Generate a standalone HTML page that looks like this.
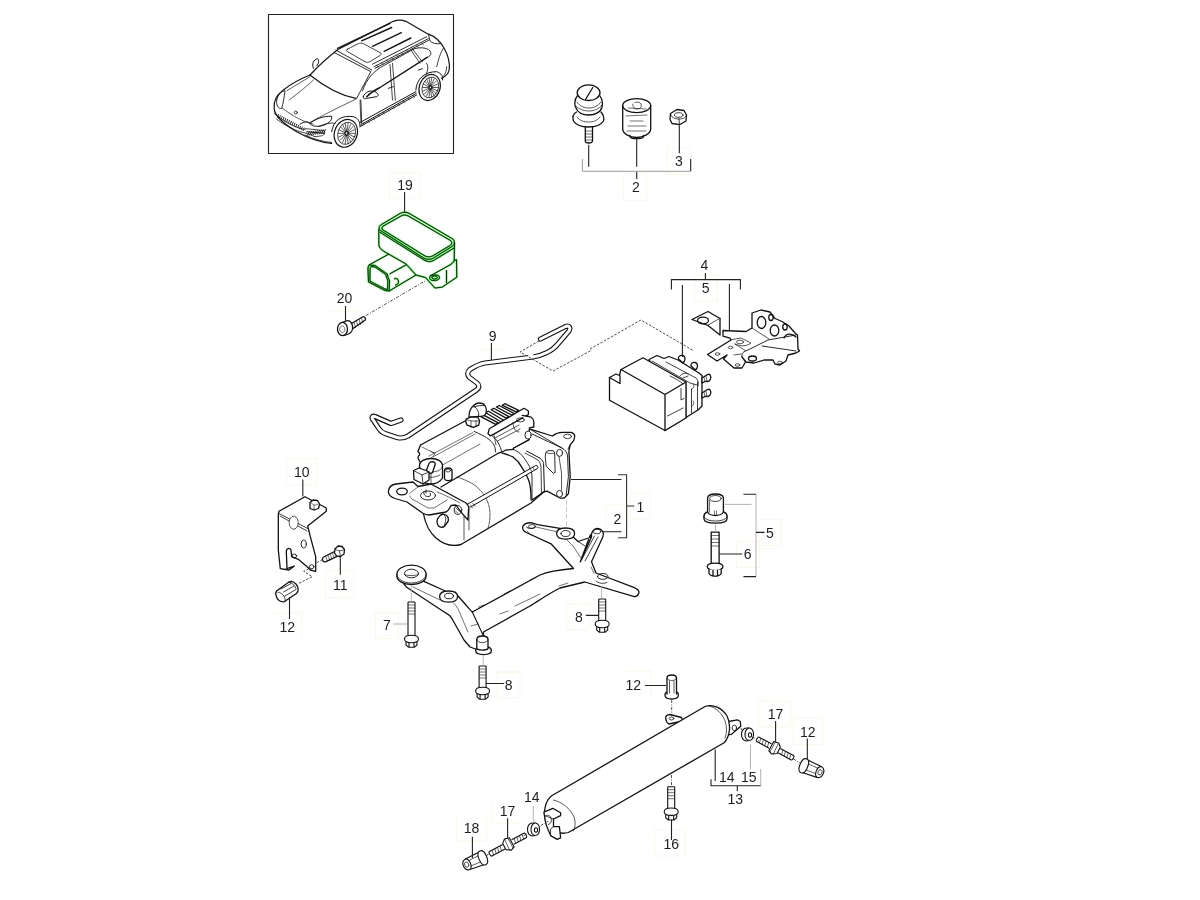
<!DOCTYPE html>
<html><head><meta charset="utf-8"><style>
html,body{margin:0;padding:0;background:#fff;width:1200px;height:900px;overflow:hidden}
svg{display:block}
text{font-family:"Liberation Sans",sans-serif;font-size:14px;fill:#1e1e1e;text-anchor:middle}
.p{fill:none;stroke:#111;stroke-width:1.3;stroke-linejoin:round;stroke-linecap:round}
.pf{fill:#fff;stroke:#111;stroke-width:1.3;stroke-linejoin:round;stroke-linecap:round}
.t{fill:none;stroke:#111;stroke-width:0.8}
.ld{fill:none;stroke:#222;stroke-width:1.1}
.g{fill:none;stroke:#9a9a9a;stroke-width:1}
.bx{fill:none;stroke:#fdf7ea;stroke-width:1;mix-blend-mode:multiply}
.d{fill:none;stroke:#222;stroke-width:0.9;stroke-dasharray:4 2}
</style></head><body>
<svg width="1200" height="900" viewBox="0 0 1200 900">
<!--BEGIN car--><g id="car" transform="translate(260,0) scale(0.1666667)">
<rect x="51" y="87" width="1110" height="834" fill="none" stroke="#222" stroke-width="1.1" vector-effect="non-scaling-stroke"/>
<g fill="none" stroke="#151515" stroke-linejoin="round" stroke-linecap="round">
<!-- silhouette thick -->
<path vector-effect="non-scaling-stroke" stroke-width="1.2" d="M300,450 C360,385 410,340 470,295 L800,128 C825,118 850,118 875,128 L1010,205 C1040,215 1080,245 1105,290 C1130,335 1140,380 1135,420 C1130,445 1110,460 1090,470"/>
<path vector-effect="non-scaling-stroke" stroke-width="1.2" d="M300,450 C250,470 190,500 140,540 C100,570 80,610 85,650 C90,700 140,740 220,790 C300,835 370,855 430,860"/>
<!-- windshield -->
<path vector-effect="non-scaling-stroke" stroke-width="1.2" d="M300,450 C380,515 470,570 575,590"/>
<path vector-effect="non-scaling-stroke" stroke-width="0.9" d="M445,315 L665,430 L580,590"/>
<path vector-effect="non-scaling-stroke" stroke-width="0.9" d="M455,300 L670,420"/>
<!-- mirror left -->
<path vector-effect="non-scaling-stroke" stroke-width="1" d="M320,410 C310,380 320,360 345,352 C355,360 355,380 340,395"/>
<!-- sunroof -->
<path vector-effect="non-scaling-stroke" stroke-width="0.8" d="M525,295 L590,262 C600,258 610,258 620,262 L725,318 C730,325 725,332 715,336 L660,370 C650,375 640,375 630,370 L525,310 C515,305 515,300 525,295Z"/>
<!-- roof lines -->
<path vector-effect="non-scaling-stroke" stroke-width="1.4" d="M610,245 L790,165 M675,278 L848,196 M745,308 L905,228"/>
<path vector-effect="non-scaling-stroke" stroke-width="1.2" d="M465,290 L780,140"/>
<!-- roof rail -->
<path vector-effect="non-scaling-stroke" stroke-width="0.9" d="M675,385 L1000,220 M685,400 L1010,232 M690,410 L1015,240"/>
<path vector-effect="non-scaling-stroke" stroke-width="0.6" d="M700,390 l10,15 M730,375 l10,15 M760,360 l10,15 M790,345 l10,15 M820,330 l10,15 M850,315 l10,15 M880,300 l10,15 M910,285 l10,15 M940,270 l10,15 M970,255 l10,15"/>
<path vector-effect="non-scaling-stroke" stroke-width="0.9" d="M1010,205 L1020,245 C1030,260 1060,265 1080,262"/>
<!-- side glass -->
<path vector-effect="non-scaling-stroke" stroke-width="0.9" d="M615,545 C640,470 690,420 740,395 L920,295 C960,280 1015,285 1025,315 C1028,330 1015,340 1005,345"/><path vector-effect="non-scaling-stroke" stroke-width="1.4" d="M1005,343 L720,525 C690,540 660,560 640,580"/>
<path vector-effect="non-scaling-stroke" stroke-width="0.8" d="M780,388 L795,600 M795,380 L812,602 M905,300 L960,380 M915,295 L975,372"/>
<!-- front door mirror -->
<path vector-effect="non-scaling-stroke" stroke-width="1" d="M620,580 C630,550 660,540 690,550 C710,560 715,575 700,580 L640,590 C625,595 615,590 620,580Z"/>
<!-- doors / handles -->
<path vector-effect="non-scaling-stroke" stroke-width="0.9" d="M770,530 L800,520 M950,420 L975,412 M605,600 L610,740 M1000,380 C1010,395 1010,420 995,450"/>
<!-- hood -->
<path vector-effect="non-scaling-stroke" stroke-width="0.7" d="M160,545 C200,520 260,485 300,460 M175,600 C240,550 290,510 320,480 M300,735 C360,700 480,640 575,595 M135,650 C200,700 260,730 320,745 M600,600 L605,735"/>
<circle vector-effect="non-scaling-stroke" stroke-width="0.8" cx="215" cy="675" r="9"/>
<!-- headlight left -->
<path vector-effect="non-scaling-stroke" stroke-width="0.9" d="M100,600 C110,560 130,545 150,545 C145,580 140,620 130,650 C110,655 95,630 100,600Z"/>
<!-- headlight front -->
<path vector-effect="non-scaling-stroke" stroke-width="1" d="M300,740 C330,715 380,695 430,698 C435,720 410,745 370,755 C330,762 305,755 300,740Z M240,745 C260,730 290,725 300,740"/>
<!-- grille / bumper -->
<path vector-effect="non-scaling-stroke" stroke-width="0.8" d="M85,680 C150,735 210,765 270,778 M100,715 C160,760 220,790 280,800 M272,772 L385,783 C392,795 388,812 370,815 L330,820 L280,800 M270,810 C320,835 380,850 430,855 M350,760 C380,745 420,735 450,740"/><path vector-effect="non-scaling-stroke" stroke-width="0.9" d="M105,703 l6,-16 M116,709 l6,-16 M127,715 l6,-16 M138,720 l6,-16 M149,726 l6,-16 M160,732 l6,-16 M171,738 l6,-16 M182,744 l6,-16 M193,749 l6,-16 M204,755 l6,-16 M215,761 l6,-16 M226,767 l6,-16 M237,773 l6,-16 M248,778 l6,-16 M259,784 l6,-16"/><path vector-effect="non-scaling-stroke" stroke-width="1" d="M285,812 l12,-22 M297,810 l12,-22 M309,809 l12,-22 M321,808 l12,-22 M333,806 l12,-22 M345,804 l12,-22 M357,803 l12,-22 M369,802 l12,-22 M381,800 l12,-22 M280,790 L385,800"/>
<!-- front wheel -->
<ellipse vector-effect="non-scaling-stroke" stroke-width="1.2" cx="515" cy="800" rx="68" ry="85" transform="rotate(20 515 800)"/>
<ellipse vector-effect="non-scaling-stroke" stroke-width="0.8" cx="520" cy="800" rx="52" ry="68" transform="rotate(20 520 800)"/>
<path vector-effect="non-scaling-stroke" stroke-width="0.7" d="M528,800 L570,800 M528,803 L567,822 M526,806 L558,841 M524,809 L545,855 M521,810 L529,863 M519,810 L511,863 M516,809 L495,855 M514,806 L482,841 M512,803 L473,822 M512,800 L470,800 M512,797 L473,778 M514,794 L482,759 M516,791 L495,745 M519,790 L511,737 M521,790 L529,737 M524,791 L545,745 M526,794 L558,759 M528,797 L567,778"/><ellipse vector-effect="non-scaling-stroke" stroke-width="1" cx="520" cy="800" rx="10" ry="13"/>
<path vector-effect="non-scaling-stroke" stroke-width="1" d="M430,790 C440,720 490,690 560,700 C590,710 600,730 600,760"/>
<!-- rear wheel -->
<ellipse vector-effect="non-scaling-stroke" stroke-width="1.2" cx="1018" cy="525" rx="62" ry="80" transform="rotate(20 1018 525)"/>
<ellipse vector-effect="non-scaling-stroke" stroke-width="0.8" cx="1022" cy="525" rx="48" ry="64" transform="rotate(20 1022 525)"/>
<path vector-effect="non-scaling-stroke" stroke-width="0.7" d="M1029,525 L1068,525 M1029,528 L1065,546 M1027,531 L1057,564 M1026,533 L1045,577 M1023,534 L1030,584 M1021,534 L1014,584 M1019,533 L999,577 M1017,531 L987,564 M1015,528 L979,546 M1015,525 L976,525 M1015,522 L979,504 M1017,519 L987,486 M1018,517 L999,473 M1021,516 L1014,466 M1023,516 L1030,466 M1025,517 L1045,473 M1027,519 L1057,486 M1029,522 L1065,504"/><ellipse vector-effect="non-scaling-stroke" stroke-width="1" cx="1022" cy="525" rx="9" ry="12"/>
<path vector-effect="non-scaling-stroke" stroke-width="1" d="M935,540 C940,470 990,430 1060,430 C1090,440 1100,460 1095,480"/>
<!-- sill -->
<path vector-effect="non-scaling-stroke" stroke-width="1" d="M600,760 L940,570 M600,735 L935,550 M605,748 L938,560"/>
<path vector-effect="non-scaling-stroke" stroke-width="0.5" d="M620,738 l5,12 M650,722 l5,12 M680,705 l5,12 M710,688 l5,12 M740,672 l5,12 M770,655 l5,12 M800,638 l5,12 M830,622 l5,12 M860,605 l5,12 M890,588 l5,12 M920,572 l5,12"/>
<!-- rear -->
<path vector-effect="non-scaling-stroke" stroke-width="0.8" d="M1100,290 C1080,320 1070,360 1060,400 M1090,470 C1110,450 1120,430 1120,400"/>
</g>
</g>
<!--END car-->
<!--BEGIN top-->
<g id="top">
<g class="p">
<ellipse cx="588.6" cy="92.7" rx="11.4" ry="7.8"/>
<path d="M585.5,99.5 L592.8,87.5"/>
<path d="M577.2,96 C574,100 574.5,106 576,108 C578,113 584,115 589,115 C595,115 601,112 602,107 C603,103 602,99 600,96"/>
<path stroke-width="0.7" d="M577,102 C580,107 585,108 589,108 C594,108 598,106 601,102 M576,106 C580,110 585,111 589,111 C594,111 599,109 602,105"/>
<path d="M576.5,112 C573,114 572.5,118 573.5,121 C576,125 582,127 588.5,127 C595,127 601,125 603.5,121 C604.5,118 603.5,115 601,112"/>
<path stroke-width="0.7" d="M577,117 C580,121 584,122 588.5,122 C593,122 597,121 600,117"/>
<path d="M585.3,127 L585.3,141.5 C586,143.5 591.5,143.5 592.5,141.5 L592.5,127"/>
<path stroke-width="0.6" d="M585.5,131 L592.5,131 M585.5,134 L592.5,134 M585.5,137 L592.5,137 M585.5,140 L592.5,140"/>
<!-- buffer -->
<ellipse cx="636.7" cy="105.6" rx="14" ry="7"/>
<path d="M622.7,105.6 L622.7,129 C623,134 630,137.5 636.7,137.5 C643,137.5 650.5,134 650.7,129 L650.7,105.6"/>
<path stroke-width="0.7" d="M633,104 C632,106 634,109 637,109 C640,109 642,107 641,104 C640,102 637,101.5 635,102.5"/>
<path stroke-width="0.6" d="M628,108 L646,109 M626,116 L647,115 M630,121 L643,121 M628,126 L646,126 M627,131 L646,131"/>
<path d="M630,135.5 L630.5,137.5 C632,139 641,139 643,137.5 L643.5,135.5"/>
<!-- nut -->
<path d="M670.5,113.5 L677,109.5 L684,110.5 L686.5,115 L686,121 L679.5,124.7 L672,123.5 L670,119.5 Z"/>
<path stroke-width="0.8" d="M670.5,113.5 C671,117 674,119 679,119 C684,119 686,117 686.5,115 M679,119 L679.5,124.7"/>
<ellipse stroke-width="0.8" cx="678.7" cy="115" rx="4.2" ry="2.3"/>
</g>
<path class="ld" d="M588.7,144.7 V166.7 M636.7,138 V166.7 M636.7,171.5 V179 M679.3,125.3 V153.3 M690.7,159 V171.3"/>
<path class="g" d="M582.4,159 V171.3 H690.7"/>
<path class="bx" d="M667.3,148 H690.7 V174.7 H667.3Z M623.3,174 H646.7 V200.4 H623.3Z"/>
</g>
<!--END top-->
<!--BEGIN p19-->
<g id="p19">
<defs>
<g id="s19" transform="translate(360,200) scale(0.1)">
<path d="M400,135 L215,245 C185,265 185,290 205,305 L640,582 C670,598 705,598 735,580 L925,462 C952,442 950,400 920,385 L490,133 C465,120 430,120 400,135Z"/>
<path d="M410,160 L230,262 C215,275 215,290 228,298 L650,560 C675,572 700,572 725,560 L905,452 C922,440 922,415 905,405 L480,158 C460,148 430,148 410,160Z"/>
<path d="M195,320 L650,605 C680,620 710,620 740,602 L940,480"/>
<path d="M188,290 L188,445 C190,480 215,500 250,520 L460,640 L492,675 L560,750"/>
<path d="M945,425 L942,605 L965,598 L968,772 L820,872 L750,880 L655,775 L560,750"/>
<path d="M942,605 C930,630 910,645 880,660 L700,760"/>
<path d="M865,700 L865,830"/>
<path d="M700,765 C690,785 700,800 730,805 C770,810 800,790 795,770 C790,752 760,745 730,752 C710,757 700,765 700,765Z"/>
<path d="M720,775 C720,790 745,795 765,785 C780,776 770,760 750,760 C730,760 720,768 720,775Z"/>
<path d="M90,650 L290,540"/>
<path d="M80,700 C78,680 82,660 92,650 L150,655 L270,738 L295,810 L292,910 L250,905 L85,820 Z"/>
<path d="M100,700 C100,680 105,668 112,665 L150,670 L258,745 L278,810 L276,895 L250,890 L100,812 Z"/>
<path d="M292,910 L560,750 M295,740 L462,648"/>
<path d="M340,790 C355,780 380,785 385,810 C388,835 370,850 350,850"/>
</g>
</defs>
<use href="#s19" fill="none" stroke="#3de23d" stroke-width="19"/>
<use href="#s19" fill="none" stroke="#0a0a0a" stroke-width="8.5" stroke-linejoin="round"/>
</g>
<!--END p19-->
<!--BEGIN p20-->
<g id="p20">
<g class="p" stroke-width="1.2">
<path fill="#fff" d="M342,322.5 L346.5,320.8 C349.5,320 352,322.5 352.5,326 C353,329.5 351.5,333 348.5,334 L344,335.5 Z"/>
<ellipse cx="342.5" cy="329" rx="5" ry="6.6" fill="#fff"/>
<ellipse cx="342.3" cy="329.3" rx="2.6" ry="3.4" stroke-width="0.6" stroke-dasharray="1.5 1"/>
<path d="M351.5,323.5 L362.5,317 C364.5,316 366,318 365.3,320 L353,328.5"/>
<path stroke-width="0.6" d="M354,322.5 L355.5,327.5 M356.5,321 L358,326 M359,319.5 L360.5,324.5 M361.5,318 L363,323"/>
</g>
<path class="ld" d="M345.5,306 V320.7 M404.6,192 V212"/>
<path fill="none" stroke="#222" stroke-width="0.8" stroke-dasharray="3 1.5 1 1.5" d="M366,315.5 L425,281"/>
<path class="bx" d="M389.6,172.5 H420 V198.3 H389.6Z M329,311 H360"/>
</g>
<!--END p20-->
<!--BEGIN p9-->
<g id="p9">
<path fill="none" stroke="#111" stroke-width="5.2" stroke-linejoin="round" stroke-linecap="round" d="M540.5,339 L565.5,326.5 C569,325 571,327.5 569,331 L557,345 C552,351 542,355.5 533,357 L485,363 C481,363.5 477,365 470,369.5 C467,372 467,375 469.5,377.5 L477,383 C479.5,385 479.5,388 476.5,390 L408,436 C404.5,438 401,438.5 397,437.5 L385,433.5 C382,432.5 380,430.5 378.5,428 L372.5,419 C371.5,417 372.5,415.5 375,416.5 L391,423.5 L401,420"/>
<path fill="none" stroke="#fff" stroke-width="3" stroke-linejoin="round" stroke-linecap="round" d="M540.5,339 L565.5,326.5 C569,325 571,327.5 569,331 L557,345 C552,351 542,355.5 533,357 L485,363 C481,363.5 477,365 470,369.5 C467,372 467,375 469.5,377.5 L477,383 C479.5,385 479.5,388 476.5,390 L408,436 C404.5,438 401,438.5 397,437.5 L385,433.5 C382,432.5 380,430.5 378.5,428 L372.5,419 C371.5,417 372.5,415.5 375,416.5 L391,423.5 L401,420"/>
<path fill="none" stroke="#fff" stroke-width="3" d="M527,358 L533,354"/>
<path class="ld" stroke="#777" d="M491.4,343 V360"/>
<path class="bx" d="M481,349.5 H504"/>
<path fill="none" stroke="#222" stroke-width="0.8" stroke-dasharray="2.5 1.5" d="M539,341 L520,352 L553,371 L592,350 M590,349 L641,320 L694,351"/>
</g>
<!--END p9-->
<!--BEGIN p1-->
<g id="p1">
<g class="pf" stroke-width="1.2">
<!-- upper compressor cylinder (behind) -->
<path d="M420.5,445 L466,420 L480,417 L529.3,440.3 L545,492 L461,544.5 L420,470 Z" stroke="none"/>
<path fill="none" d="M420.5,445 L466,420.5"/>
<path fill="none" d="M420.5,445 L418.5,450 C417.5,451 418,452 419.5,453 L419.5,455 C418,456 417.5,458 419,460 L420.5,463 L420.5,468"/>
<path fill="none" stroke-width="0.6" d="M422,447 L435,453.5 L433,456.5 M431,451.5 L434.5,453 M429,456 L473,432.5 M431,458 L475,434 M439,467 L480,444"/>
<path fill="none" stroke-width="0.9" d="M474.2,431.4 C480,434 484,436 486.7,437.7 C490,440 493,443 493.8,444.8 C495,447 495.5,449 495.6,451.9"/>
<path fill="none" stroke-width="0.9" d="M491.1,435 C494,437.5 497,440 498.2,443 C500,446 501,449 501.8,451.9"/>
<!-- fins -->
<path d="M480.4,416.3 L495.6,424.3 L498.3,422.8 L483.1,414.8 Z M485.8,412.8 L500.9,421.7 L503.6,420.2 L488.5,411.3 Z M491.1,409.7 L506.2,418.1 L508.9,416.6 L493.8,408.2 Z M496.4,407 L511.6,415 L514.3,413.5 L499.1,405.5 Z M502.2,405.2 L516,411.9 L518.7,410.4 L504.9,403.7 Z"/>
<!-- elbow fitting -->
<path d="M468.9,417.2 C469,413 470.5,408 473.3,405.7 C475,404 477,403 478.7,403 C481.5,403 484,404 484.8,405.5 C486.5,408 486.7,411 485.8,413.7 C485,415.5 482,416.5 479.6,416.3 Z"/>
<path fill="none" stroke-width="0.9" d="M473.3,405.7 C475.5,407 478,410 478.5,412.5 C479,414.5 478.5,416 477.8,417.2 M474,407 C476.5,405.5 482,405.5 484.8,405.5"/>
<path d="M466.2,419 L470.7,417.2 L477.8,417.2 L479.6,420.8 L478.7,425.2 L473.3,427.4 L467.1,425.2 L465.8,421.7 Z"/>
<path fill="none" stroke-width="0.7" d="M466.2,419 C468,421 473,421.5 479.6,420.8 M471,421.3 L471,427 M476,421 L476,426"/>
<!-- top rail / head block -->
<path d="M489.3,428.8 L524,408.3 L528.4,411 L528.4,414.6 L493.8,434.1 L490.2,435.9 L488,433.5 Z"/>
<path d="M522.2,415.4 L531.1,417.2 C533,418.5 533.8,420 533.8,421.7 L533.8,427 L529.3,427.9"/>
<ellipse cx="520.4" cy="419.9" rx="4" ry="2" fill="none" stroke-width="0.8"/>
<path fill="none" stroke-width="0.7" d="M493.8,434.1 L496,445 M513,423 C513,427 515,432 519,432 M495,438 L519,425 M497.5,441 L520,429"/>
<!-- pump head flange -->
<path d="M513.3,448.3 L529.3,439.6 L529.3,428.9 L552.4,436 C555,434 558,432.4 562.2,432.4 L571.1,432.4 C573,433 574.7,434.5 574.7,436 C574.5,438 573.8,440.4 573.8,440.4 L570.2,444.9 L568.9,451.1 L570.2,476.9 L568.4,493.8 L564,498.2 L560.4,498.2 L547.1,491.1 L543.6,492 L532,500 L513,457 Z"/>
<path fill="none" stroke-width="0.9" d="M531.1,429.8 L564,449.3 C566.5,451.5 567.6,454 567.6,457.3 L568.4,476.9 L566.2,494.7 M532,434 L562,448 M570.2,444.9 L568,449"/>
<ellipse cx="567.6" cy="436.4" rx="4" ry="2.2" fill="none" stroke-width="0.8"/>
<ellipse cx="528" cy="435.1" rx="3.1" ry="4" stroke-width="0.9"/>
<path fill="none" stroke-width="1" d="M513.3,448.3 L529.3,439.6 M526.7,451.1 L540,458.2 C542,460 543.6,462 543.6,463.6 L544.4,491.1"/>
<path fill="none" stroke-width="0.8" d="M525,453 L538,460 C540,462 541,465 541,468 L541.5,493"/>
<!-- pins -->
<path stroke-width="0.9" d="M546.2,452 L548,450.7 L553.3,450.7 L554.7,452.9 L555.1,472.4 L553.3,473.3 L546.2,466.2 L545.3,457.3 Z"/>
<path fill="none" stroke-width="0.7" d="M546.5,452.5 C548,454 552,454 554.5,453"/>
<ellipse cx="559.6" cy="452.9" rx="3" ry="3.5" stroke-width="0.9"/>
<path fill="none" stroke-width="0.7" d="M559,456.5 L561.5,473 L561.5,490"/>
<ellipse cx="559.6" cy="493.8" rx="3" ry="3.4" stroke-width="0.9"/>
<!-- motor cylinder -->
<path d="M460,472.3 L497.3,453.7 L505.3,450.2 L513.3,449.3 C517,451 520,453 522.2,455.6 C525,459 527.5,463 529.3,466.2 C531,470 532,473 532,476.9 L532,500 L461,544.5 C452,547 443,544 436,538 C428,531 425,522 423.5,514 L454,504.5 Z" stroke="none"/>
<path fill="none" d="M441,487 L497.3,453.7 C500,452.5 502.5,452 505.3,450.2 L513.3,449.3 M461,544.5 L531,503 L543.6,492"/>
<path fill="none" d="M501.8,452.8 C506,454 510,455.5 513.3,457.2 C517,460 520,463.5 522.2,467.9 C525.5,473 528,478 529.3,482.2 C530.5,487 531,492 531.1,500"/>
<path fill="none" stroke-width="0.9" d="M513.3,449.3 C517,451 520,453 522.2,455.6 C525,459 527.5,463 529.3,466.2 C531,470 532,473 532,476.9 L532,500"/>
<path fill="none" stroke-width="0.7" stroke-dasharray="3 1" d="M457,477 C466,480 475,484 480,490 C487,497 490,506 490,515 C490,520 489,525 488,528"/>
<!-- tie rod -->
<path d="M467,504.5 L535.8,465.5 C537.5,465 538.5,467 537.5,468.5 L470.5,507 C469,507.5 467.5,506.5 467,504.5 Z" stroke-width="1"/>
<path fill="none" stroke-width="0.6" d="M530,468.5 L532,471.5 M532.5,467 L534.5,470 M470.5,505 L472.5,508 M473,503.5 L475,506.5"/>
<!-- end cap -->
<path fill="none" d="M423.5,514 C425,522 428,531 436,538 C443,544 452,547 461,544.5"/>
<path fill="none" stroke-width="0.7" d="M464,512 L464,540 M469,509 L469,530"/>
<!-- plug -->
<path d="M438.5,517.5 C436.5,519.5 436.5,524 438.5,526 C440.5,528 443.5,527.5 445,525.5 L448,521.5 C449,519 448,516 446,515 L443,514 C441,514.5 439.5,516 438.5,517.5Z"/>
<path fill="none" stroke-width="0.8" d="M443,514 C445,515 446.5,518 445.5,521.5 C445,523.5 444,525.5 445,525.5"/>
<!-- mounting plate -->
<path d="M388.5,491 C389,487 392,484.5 396,484 L413,482 L418,486.5 L431,484 L466,503 C468.5,505 469,508 468.5,510 L468,520 C463,515 460,511 456,505 L451,505.5 C450,508 449,510 446,512 L429,515 C427,515 424,514 422.5,513 L407,502 L395,498.5 C391,497 388,494 388.5,491Z"/>
<ellipse cx="402" cy="491.5" rx="5.3" ry="3.4" fill="none"/>
<ellipse cx="428" cy="495.5" rx="7.5" ry="4.5" fill="none" stroke-width="0.9"/>
<path fill="none" stroke-width="0.9" d="M424,491.5 C423,494 425,497 429,496.5 C431,496 431,494 430,493 M426,490 L426,493"/>
<path fill="none" stroke-width="0.6" d="M410,496 C410,497 411,498 412,499 L428,508 L434,508 L447,500 M437,492 C445,495 453,499 460,503 M410,493 L418,487"/>
<ellipse cx="458" cy="510" rx="3.8" ry="4.4" fill="none" stroke-width="0.9"/>
<path fill="none" stroke-width="0.6" d="M456,508 L460,512 M455.5,511 L458,513"/>
<!-- dome + connector -->
<path d="M419.5,466 C419.5,461 425,458.5 431,458.5 C437,458.5 442.5,461 442.5,466 L442.5,478 C440,482 436,484 431,484 C426,484 422,482 420.5,479 Z"/>
<path fill="none" stroke-width="0.7" d="M419.5,466 C420,470 425,472 431,472 C437,472 442,470 442.5,466 M431,472 L431,484 M424,476 C428,478 434,478 440,475"/>
<path d="M426.5,470 L429,463.5 C430,462 432,461.5 434,462 C435,462.5 435.5,463.5 435,465 L432.5,472.5 C431,474 427,473 426.5,470Z"/>
<path d="M444.5,471 C444.5,469 446,468 448,468 C450.5,468 452,469 452,471 L452,479 C451,481 446,481.5 444.5,479 Z"/>
<ellipse cx="448" cy="470.5" rx="2.5" ry="1.5" fill="none" stroke-width="0.7"/>
<path d="M413.5,470.5 L419,468 L426,470.5 L429,472 L429,480 L423,484 L414,479.5 Z"/>
<path fill="none" stroke-width="0.8" d="M413.5,470.5 L422,475 L429,472 M422,475 L423,484"/>
</g>
<path class="ld" d="M571,479.5 H621.5 M601.7,531.8 H621.5"/>
<path fill="none" stroke="#333" stroke-width="1.1" d="M618,474.7 H626.6 V537.7 H618 M626.6,506 H634.3"/>
<path fill="none" stroke="#bbb" stroke-width="0.8" stroke-dasharray="5 2" d="M566.5,500 V537"/>
<path class="bx" d="M630,493 H650 V519 H630Z M606,505 H627 V531 H606Z"/>
</g>
<!--END p1-->
<!--BEGIN p2-->
<g id="p2">
<defs>
<g id="bolt">
<!-- bolt centered at x=0, shaft top y=0, length param via transform: shaft 0..34 -->
<path d="M-3.5,0 L-3.5,34 M3.5,0 L3.5,34 M-3.5,0 L3.5,0" />
<path stroke-width="0.6" d="M-3.5,3 H3.5 M-3.5,6 H3.5 M-3.5,9 H3.5 M-3.5,12 H3.5"/>
<path d="M-7,37 C-7,34.5 -3.5,33.3 0,33.3 C3.5,33.3 7,34.5 7,37 C7,39.5 3.5,40.7 0,40.7 C-3.5,40.7 -7,39.5 -7,37Z" fill="#fff"/>
<path d="M-5.5,40 L-5.5,43 L-3,45.3 L3,45.3 L5.5,43 L5.5,40 M-2.5,40.6 L-2.5,45.3 M2.5,40.6 L2.5,45.3"/>
</g>
<g id="bolts">
<path d="M-3.5,0 L-3.5,22 M3.5,0 L3.5,22 M-3.5,0 L3.5,0" />
<path stroke-width="0.6" d="M-3.5,3 H3.5 M-3.5,6 H3.5 M-3.5,9 H3.5 M-3.5,12 H3.5"/>
<path d="M-7,25 C-7,22.5 -3.5,21.3 0,21.3 C3.5,21.3 7,22.5 7,25 C7,27.5 3.5,28.7 0,28.7 C-3.5,28.7 -7,27.5 -7,25Z" fill="#fff"/>
<path d="M-5.5,28 L-5.5,31 L-3,33.3 L3,33.3 L5.5,31 L5.5,28 M-2.5,28.6 L-2.5,33.3 M2.5,28.6 L2.5,33.3"/>
</g>
</defs>
<g class="pf" stroke-width="1.2">
<!-- main outline -->
<path d="M422.8,580.9 L445.3,591 L457.6,595.5 L465.5,604.5 C468,607.5 470,610 472.3,612 L540,575 C548,571.5 556,570 573.5,568.5 L551,543.8 L526.3,532.5 C523,531 522,528 523,526 C524.5,523.5 528,522.5 531.9,522.8 L537.5,524.6 L564.5,529.1 L578,541.5 L591.5,537 L590.4,534.8 L580.3,561.8 L591.5,537 C591,533 593,529 597.1,528.5 C601,528.5 603.5,531 603.3,534 L602.8,537 L591.5,561.8 L596,573 L634.3,587.6 C637.5,589 639.5,591 638.8,593.3 C638,595.5 636,596.8 634.3,596.6 L584.8,582 L560,588 C548,594 540,600 530,606 L483.5,632 L483.5,638.3 L476.8,649.5 L470,647 L464,640 L452,618.7 C450,615.5 448,614 445.3,612.7 L406.7,587.3 L402.5,582 Z"/>
<!-- left pad -->
<path d="M396.9,574.1 C396.9,569 403.5,565.1 411.5,565.1 C419.5,565.1 426.1,569 426.1,574.1 L426.1,576 C426.1,581 419.5,584.5 411.5,584.5 C403.5,584.5 396.9,581 396.9,576 Z"/>
<path fill="none" stroke-width="0.8" d="M396.9,574.1 C397,579 403.5,583 411.5,583 C419.5,583 426,579 426.1,574.1"/>
<ellipse cx="411.5" cy="573.5" rx="7" ry="4.3" fill="none" stroke-width="0.9"/>
<path fill="none" stroke-width="0.7" d="M404.5,574.5 C406.5,576 416,576 418.5,574.5"/>
<!-- mid boss -->
<path d="M439.6,596.6 C439.6,592.8 443.6,591 448.6,591 C453.6,591 457.6,592.8 457.6,596.6 C457.6,600.4 453.6,602.2 448.6,602.2 C443.6,602.2 439.6,600.4 439.6,596.6Z"/>
<ellipse cx="449" cy="596" rx="4.4" ry="2.8" fill="none" stroke-width="0.9"/>
<!-- thin details -->
<path fill="none" stroke-width="0.6" d="M413,587 L440,600 M453,602.5 C457,606 459,610 461,616 L468,632 M471,626 L478,624 M478.5,607 L484,605 M504,594 L510,591 M530,580 L535,578 M500,614 L508,611 M515,606 L540,594 M559,586 L568,583 M527,531 L531,535 M565,538 L573,546 L581,558 M536,527 L562,533 M591,567 L594,573"/>
<path fill="none" stroke-width="1.1" d="M472.3,612 L483.5,636"/>
<path fill="none" stroke-width="0.9" d="M526.5,527 C528,529 533,529 535.5,527"/>
<ellipse cx="531.9" cy="526.5" rx="3.5" ry="2" fill="none" stroke-width="0.8"/>
<!-- central boss -->
<path d="M556.6,533.6 C556.6,529.8 560.6,528 565.6,528 C570.6,528 574.6,529.8 574.6,533.6 C574.6,537.4 570.6,539.2 565.6,539.2 C560.6,539.2 556.6,537.4 556.6,533.6Z"/>
<path d="M561,533.5 C561,531.5 563,530.5 565.6,530.5 C568.2,530.5 570.2,531.5 570.2,533.5 C570.2,535.5 568.2,536.5 565.6,536.5 C563,536.5 561,535.5 561,533.5Z" stroke-width="0.9"/>
<!-- right pad -->
<ellipse cx="597.1" cy="531.5" rx="3.8" ry="2.4" fill="none" stroke-width="0.8"/>
<path fill="none" stroke-width="0.8" d="M594.5,536 L581.5,560 M598,537 L585,561 M578,541.5 L585,546"/>
<!-- boss lower right -->
<path d="M597.5,576.4 C597.5,574.5 600,573.5 602.8,573.5 C605.6,573.5 608,574.5 608,576.4 C608,578.3 605.6,579.3 602.8,579.3 C600,579.3 597.5,578.3 597.5,576.4Z" fill="none" stroke-width="0.9"/>
<path fill="none" stroke-width="0.8" d="M596,581 C598,583.5 604,584 607,582.5"/>
<!-- bushing post -->
<path d="M475.6,650.6 C475.6,648 479,646.5 483.5,646.5 C488,646.5 491.4,648 491.4,650.6 C491.4,653.2 488,654.6 483.5,654.6 C479,654.6 475.6,653.2 475.6,650.6Z"/>
<path d="M476.8,639.4 C476.8,637.2 479.3,636 482.4,636 C485.5,636 488,637.2 488,639.4 L488,648.8 C486.5,650.5 478.5,650.5 476.8,648.8 Z"/>
<path fill="none" stroke-width="0.8" d="M476.8,639.4 C477,641.5 479.5,642.6 482.4,642.6 C485.3,642.6 487.8,641.5 488,639.4"/>
</g>
<!-- bolts -->
<use href="#bolt" transform="translate(411.5,602)" fill="none" stroke="#111" stroke-width="1.1"/>
<use href="#bolts" transform="translate(602.2,599)" fill="none" stroke="#111" stroke-width="1.1"/>
<use href="#bolts" transform="translate(482.6,666)" fill="none" stroke="#111" stroke-width="1.1"/>
<path fill="none" stroke="#aaa" stroke-width="0.8" d="M411.3,585 V601.8 M601.6,586 V598.3 M483.2,655 V666"/>
<path fill="none" stroke="#999" stroke-width="0.8" d="M393.3,624 H407.3"/>
<path class="ld" d="M585.8,615.4 H598 M485.5,683.5 H504.2"/>
<path class="bx" d="M375.5,612.5 H398.5 V638.5 H375.5Z M567,604 H590 V630 H567Z M497,672 H520 V698 H497Z"/>
</g>
<!--END p2-->
<!--BEGIN p10-->
<g id="p10">
<g class="pf" stroke-width="1.2">
<path d="M279,511.3 L305,496.7 L326.3,508 L326.3,511.3 L307.7,526 L310.3,536.7 L315.7,556.7 L315.7,571.3 L310.3,570 L307.7,567.3 L298.3,559.3 L291.7,556.7 L291,550 C290.5,548.5 288.5,548 287.7,548.7 C286.5,549.5 286.3,550.5 286.3,551.3 L287,568.7 L294.3,566 L289,570 L280.3,568.7 L278.3,550 L278.3,514 Z"/>
<path fill="none" stroke-width="0.8" d="M279,513.5 L307.7,528.5 M280,516 L307,531"/>
<ellipse cx="293.7" cy="522.7" rx="4.5" ry="6.5" fill="#fff" stroke-width="0.8" stroke-dasharray="2 1"/>
<ellipse cx="303.7" cy="544" rx="2.6" ry="4" fill="none" stroke-width="0.9"/>
<ellipse cx="294.3" cy="556" rx="2.3" ry="2" fill="none" stroke-width="0.9"/>
<ellipse cx="311.7" cy="566.7" rx="2.3" ry="2" fill="none" stroke-width="0.9"/>
<path d="M310,502.5 L313,500 L317.5,500.5 L319.5,504 L318.5,508.5 L314,510 L310,508.5 Z"/>
<path fill="none" stroke-width="0.6" d="M311.5,503 C312,505 316,506 318,504 M314,505.5 L314,510"/>
<!-- bolt 11 -->
<path d="M323.7,557 L334.5,551.5 L337,556.3 L326,561.6 C324,562.5 322.5,561 322.5,559.5 C322.5,558.5 323,557.3 323.7,557Z"/>
<path fill="none" stroke-width="0.6" d="M325.5,556 L327.5,561 M327.8,555 L329.8,560 M330,554 L332,559 M332.3,552.8 L334.3,557.8"/>
<path d="M335,549 L338,546 L342,546.5 L344.5,549.5 L344,554 L340.5,556.5 L336.5,556 L334.5,553 Z"/>
<path fill="none" stroke-width="0.7" d="M335,549 C337,551 341,551.5 344.5,549.5 M339.5,551 L340.5,556.5"/>
<!-- part 12 rivet nut -->
<path d="M276.5,591 C275,593 276,598 279,600.5 C282,602.5 285,602 286,600.5 L296.5,593.5 C299,591.5 298.5,587 296,584 C293.5,581.5 290.5,581 289,582 Z"/>
<path fill="none" stroke-width="0.8" d="M278,592.5 C280,592 283,594 284.5,597 C285.5,599 285.5,601 284.5,601.5 M289,582 C292,582.5 295,585.5 296,588.5 M281,589 L291,583.5 M283.5,592 L294,586 M285,596 L296,589.5"/>
</g>
<path class="ld" d="M302.8,479.6 V496.4 M340.3,557 V574.7 M289.5,597 V619"/>
<path fill="none" stroke="#222" stroke-width="0.8" stroke-dasharray="2.5 1.5" d="M322.5,559.5 L316,563 M299,583.3 L312.3,576.7 L303.7,571.3 L309,568.7"/>
<path class="bx" d="M286.3,458.4 H317.1 V484.8 H286.3Z M325.4,571.4 H353.9 V597.8 H325.4Z M272,612.6 H301.7 V640"/>
</g>
<!--END p10-->
<!--BEGIN p5-->
<g id="p5">
<g class="pf" stroke-width="1.2">
<path d="M703.9,516.2 C703.9,512.5 709,510.4 715.5,510.4 C722,510.4 727.1,512.5 727.1,516.2 L727.1,518.5 C727.1,521.5 722,523.2 715.5,523.2 C709,523.2 703.9,521.5 703.9,518.5 Z"/>
<path fill="none" stroke-width="0.8" d="M703.9,516.2 C704,519 709,521 715.5,521 C722,521 727,519 727.1,516.2"/>
<path d="M707.6,498.2 C707.6,495.5 711,494 715.5,494 C720,494 723.4,495.5 723.4,498.2 L723.4,512 C722,514.5 719,515.5 715.5,515.5 C712,515.5 709,514.5 707.6,512 Z"/>
<ellipse cx="715.5" cy="498.5" rx="5.8" ry="3" fill="none" stroke-width="0.8"/>
<path fill="none" stroke-width="0.6" d="M709.5,500 L709.5,512 M714.5,511 L714.5,515 M716.5,511 L716.5,515"/>
<!-- bolt 6 -->
<path d="M711.2,532.1 L711.2,564 M719.1,532.1 L719.1,564 M711.2,532.1 H719.1"/>
<path fill="none" stroke-width="0.6" d="M711.2,535.5 H719.1 M711.2,539 H719.1 M711.2,542.5 H719.1 M711.2,546 H719.1"/>
<path d="M707.2,566.8 C707.2,564.5 711,563.2 715.1,563.2 C719.2,563.2 723,564.5 723,566.8 C723,569 719.2,570.4 715.1,570.4 C711,570.4 707.2,569 707.2,566.8Z"/>
<path d="M709,569.5 L709,573.5 C710,575.5 712.5,576.2 715.1,576.2 C717.7,576.2 720,575.5 721.2,573.5 L721.2,569.5 M713,570.3 L713,576 M717.5,570.3 L717.5,576"/>
</g>
<path fill="none" stroke="#aaa" stroke-width="0.9" d="M724.9,504.4 H751.6 M715.5,524.9 V532.1 M756,494.3 V576.6"/>
<path class="ld" d="M719.1,554 H742.2 M743.4,494.3 H756 M743.4,576.6 H756 M756,532.4 H764.6"/>
<path class="bx" d="M758.5,519.5 H781.5 V545.5 H758.5Z M736.5,541 H759.5 V567.5 H736.5Z"/>
</g>
<!--END p5-->
<!--BEGIN p4-->
<g id="p4">
<g class="pf" stroke-width="1.2">
<!-- ECU back plates -->
<path d="M649,359.5 L657,355.5 L664,358.5 L669,356.5 L678,360 L699,373 L702,375.5 L702,406 L698,410 L665,430.5 L665,394.5 Z"/>
<path fill="none" stroke-width="0.8" d="M652,361 L690,383 L697,385 M666,362 L696,378 C698,380 699,383 698,386 M686,383 L686,418 M691.5,389 L691.5,413 M697.5,382 L697.5,410 M680,376 C682,373 686,372.5 688,374 M683,378 L688,376 M669,377 L676,381 L676,386"/>
<path fill="none" stroke-width="0.7" d="M693.5,384 C695,386 693,389 692,389 M693,401 C695,403 693,406 692,406 M681,389 L681,400 L683.5,399 M668,416 L683,408"/>
<!-- studs -->
<path d="M678.5,359 C678,356.5 680,355 682.5,355.5 C685,356 685.5,358.5 684.5,361 L683,363 Z"/>
<path d="M691,366 C690.5,363.5 692.5,362 695,362.5 C697.5,363 698,365.5 697,368 L695.5,370 Z"/>
<path d="M702,378 L707.5,374.5 C710,373.5 711.5,376 710.5,379 C709.5,381.5 707.5,382 706,381 L702,383 Z"/>
<path d="M702,393 L707.5,389.5 C710,388.5 711.5,391 710.5,394 C709.5,396.5 707.5,397 706,396 L702,398 Z"/>
<path fill="none" stroke-width="0.6" d="M704,377 L705,382 M706,376 L707,381 M704,392 L705,397 M706,391 L707,396"/>
<!-- ECU main box -->
<path d="M621,369.5 L643,357.8 L686,382 L686,418 L665,430.5 L609.5,400.3 L609.5,377.5 L616,374 L619.5,375.5 L620.5,371 Z"/>
<path fill="none" d="M621,369.5 L665,394.5 L686,382 M665,394.5 L665,430.5 M609.5,377.5 L620,383.5 L620,376"/>
<path fill="none" stroke-width="0.8" d="M681,388.5 L681,400 L684,398.5 M667.5,416 L683,408 M670,376 C676,379 680,381 683,384"/>
</g>
<g class="pf" stroke-width="1.2">
<!-- bracket tower -->
<path d="M752,328 L752,313 L761,310 L770,312 L775,318.5 L782,321.5 L789,326 L795,333 L797.5,335 L798,349 L799.5,351 L796,353 L788,355 L786,361 L780,365 L775,364 L773,360 L764,360 L754,363 L746,362 L742,357 L745.5,362 L742,368 L734,368 L723.5,359 L727,355 L717,361 L707.5,354.5 L731,340 L730,338 L723,336 L723,330.5 L746,331.5 Z"/>
<path d="M692,319.5 L708,311.5 L720,318.5 L708,325.5 Z"/>
<path d="M708,325.5 L720,335 L720,318.5"/>
<ellipse cx="703" cy="320.5" rx="5.5" ry="3.3" fill="none"/>
<ellipse cx="761.5" cy="322.5" rx="4.3" ry="6" fill="none"/>
<ellipse cx="771" cy="317.5" rx="2.2" ry="3" fill="none"/>
<ellipse cx="774.5" cy="330.5" rx="4.3" ry="5.5" fill="none"/>
<ellipse cx="785" cy="327" rx="2.2" ry="3" fill="none"/>
<path fill="none" d="M784,338 C786,333 792,333 796,337"/>
<ellipse cx="752.5" cy="358.5" rx="4" ry="2.5" fill="none"/>
<path fill="none" stroke-width="0.9" d="M742,357 C741,353 744,351 748,350 L768,340 L796,335 M762,346 L796,351"/>
<path fill="none" stroke-width="0.7" d="M752,328 L769,339 M735,344 L746,351 M730,340 L741,338 L751,343 C746,347 740,346 735,344 M734,355 L741,354"/>
<ellipse cx="740" cy="342" rx="3.5" ry="1.8" fill="none" stroke-width="0.7"/>
<ellipse cx="717.5" cy="354" rx="2.3" ry="1.3" fill="none" stroke-width="0.7"/>
<ellipse cx="730.5" cy="347.5" rx="2.3" ry="1.3" fill="none" stroke-width="0.7"/>
<ellipse cx="737.5" cy="365" rx="2.3" ry="1.3" fill="none" stroke-width="0.7"/>
<ellipse cx="780" cy="362.5" rx="2.3" ry="1.3" fill="none" stroke-width="0.7"/>
</g>
<path class="ld" d="M682.4,285 V357 M729.4,284 V330 M671.4,289.4 V279.6 H740.4 V289.4 M705.4,273 V279.6"/>
<path class="bx" d="M694.4,275 H717.4 V301 H694.4Z"/>
</g>
<!--END p4-->
<!--BEGIN p13-->
<g id="p13">
<defs>
<g id="rnut">
<path d="M1,-6.8 L16.5,-5.8 C19.5,-5.5 21,-3 21,0 C21,3 19.5,5.5 16.5,5.8 L1,6.8"/>
<path d="M0,-7.5 C-2.8,-7.5 -4,-4 -4,0 C-4,4 -2.8,7.5 0,7.5 C2.8,7.5 4,4 4,0 C4,-4 2.8,-7.5 0,-7.5Z"/>
<path d="M17,-5.8 C14.5,-5.5 13.5,-2.8 13.5,0 C13.5,2.8 14.5,5.5 17,5.8"/>
<path stroke-width="0.6" d="M3.5,-3.5 L14,-3 M3.5,3 L14,2.8"/>
<ellipse cx="17.5" cy="0" rx="2" ry="2.8" stroke-width="0.7"/>
</g>
<g id="stud">
<!-- stud along +x: hex nut at 0 -->
<path d="M-19,-2.5 L-5,-2.5 M-19,2.5 L-5,2.5 M-19,-2.5 C-20.5,-2.5 -20.5,2.5 -19,2.5"/>
<path stroke-width="0.6" d="M-17,-2.5 L-16,2.5 M-14,-2.5 L-13,2.5 M-11,-2.5 L-10,2.5 M-8,-2.5 L-7,2.5"/>
<path d="M-4,-5.5 L1,-6.5 L4.5,-3.5 L4.5,3.5 L0,6.5 L-4,5 Z"/>
<path stroke-width="0.6" d="M-2.5,-5.5 L-2.5,5.5 M1,-6 L1.5,6"/>
<path d="M5,-2.5 L20,-2.5 M5,2.5 L20,2.5 M20,-2.5 C21.5,-2.5 21.5,2.5 20,2.5"/>
<path stroke-width="0.6" d="M8,-2.5 L9,2.5 M11,-2.5 L12,2.5 M14,-2.5 L15,2.5 M17,-2.5 L18,2.5"/>
</g>
<g id="wash">
<path d="M0,-6.5 C-3.5,-6.5 -5,-3 -5,0 C-5,3.5 -3,6.5 0,6.5 L3,6 C6,5.5 7,3 7,0 C7,-3.5 5.5,-6 3,-6.5 Z"/>
<path d="M3,-6.5 C0,-6.5 -1.5,-3 -1.5,0 C-1.5,3 0,6 3,6"/>
<ellipse cx="3.5" cy="0.5" rx="1.6" ry="2.2"/>
</g>
</defs>
<g class="pf" stroke-width="1.2">
<!-- top tab -->
<path d="M665.8,719 C665,716.5 667,714.5 670,714.5 L681.5,717.5 L683,721 L669,724 C667,723 666,721 665.8,719Z"/>
<ellipse cx="671.5" cy="718.5" rx="2.3" ry="1.5" fill="none" stroke-width="0.8"/>
<!-- right tab -->
<path d="M726,722 L737.3,719.8 L740.3,721.5 L740.8,726.2 L731.5,734.3 L726,735 Z"/>
<ellipse cx="734.4" cy="727.9" rx="2.2" ry="2.8" fill="none" stroke-width="0.8"/>
<!-- body -->
<path d="M551.7,795.8 L705,706.5 C713,703.5 722,708 727,716 C731,724 730.5,735 724.5,742.5 L568.3,832.5 C560,835 550,831 546,822 C543,814 544.5,801 551.7,795.8Z"/>
<path fill="none" stroke-width="0.7" d="M553.3,800 C562,802 570,808 574,817 C576,823 575,828 573.3,831 M709.3,706 C717,708 722.5,714 725,721 C727,727 727,733 725,738"/>
<!-- left bracket -->
<path d="M543.9,812.2 L552.8,808.3 L560.6,812.8 L560.6,815.6 L553.5,819 L553.5,826.5 L559.4,826.7 L560.6,837.8 L557.2,839.4 L550.6,835.6 L547,827 L545.5,822 Z"/>
<path fill="none" stroke-width="0.8" d="M545.5,816 C547,814.5 550,815 551,818 C552,821 551,824 548.5,824.5 M553.5,819 L544.5,815.5 M550.6,835.6 L550.6,829 L553.5,826.5"/>
</g>
<g fill="none" stroke="#111" stroke-width="1.1" stroke-linejoin="round">
<use href="#rnut" transform="translate(803.8,765.8) rotate(22)" fill="#fff"/>
<use href="#rnut" transform="translate(482.8,857.8) rotate(157) scale(1,-1)" fill="#fff"/>
<use href="#stud" transform="translate(774.7,748.3) rotate(28)" fill="#fff"/>
<use href="#stud" transform="translate(508.3,844.4) rotate(-28) scale(-1,1)" fill="#fff"/>
<use href="#wash" transform="translate(746.5,734.5)" fill="#fff"/>
<use href="#wash" transform="translate(532.5,829.5)" fill="#fff"/>
</g>
<!-- top rivet nut 12 -->
<g class="pf" stroke-width="1.2">
<path d="M665,695 C665,692.5 668,691 671.7,691 C675.4,691 678.4,692.5 678.4,695 C678.4,697.5 675.4,699 671.7,699 C668,699 665,697.5 665,695Z"/>
<path d="M667,694 L667,678 C667,676 669,675 671.7,675 C674.5,675 676.5,676 676.5,678 L676.5,694"/>
<path fill="none" stroke-width="0.7" d="M667,678 C667.5,680 670,680.5 671.7,680.5 C673.5,680.5 676,680 676.5,678 M669.5,681 L669.5,693 M674,681 L674,693"/>
</g>
<!-- bolt 16 -->
<use href="#bolts" transform="translate(671.2,786.7)" fill="none" stroke="#111" stroke-width="1.1"/>
<path fill="none" stroke="#222" stroke-width="0.8" stroke-dasharray="3 1.5 1 1.5" d="M671.7,700 V716 M671.5,775 V786.7 M741,728 L741.5,730 M752,737 L759,740.5 M793.3,758.8 L800,763 M540.6,825.6 L548.3,821.1 M523.9,835.6 L528.3,832.8 M486,856 L489.5,853.5"/>
<path class="ld" d="M671.5,819.5 V840 M715.2,749.5 V781 M775.6,720.9 V742.5 M807.3,738.4 V760 M507.6,818.3 V837.8 M472.4,836.7 V858 M645,685.5 H666"/>
<path fill="none" stroke="#aaa" stroke-width="0.9" d="M750.5,744.8 V769.3 M533.3,806.1 V821.7 M760.7,769 V785.7"/>
<path class="ld" d="M711,779.3 V785.7 H760.7 M737.3,785.7 V790.9"/>
<path class="bx" d="M456.7,815.6 V841.1 H486.7 V815.6 M492.2,797.2 V823.3 H521.7 M758.7,701 H790.5 V727 H758.7Z M793,718 H822.5 V744.5 H793Z M655,830 H685.5 V856 H655Z M622,671 H651 V697 M497,672 H520"/>
</g>
<!--END p13-->
<!-- LABELS -->
<g id="labels">
<text x="636" y="192">2</text>
<text x="679" y="166">3</text>
<text x="405" y="190">19</text>
<text x="344.5" y="303">20</text>
<text x="704.5" y="270">4</text>
<text x="705.7" y="293">5</text>
<text x="492.7" y="341">9</text>
<text x="301.7" y="477">10</text>
<text x="640.3" y="512">1</text>
<text x="617.4" y="524">2</text>
<text x="770" y="537.6">5</text>
<text x="747.6" y="559.3">6</text>
<text x="340.2" y="590">11</text>
<text x="287.2" y="631.5">12</text>
<text x="387" y="629.8">7</text>
<text x="579" y="621.7">8</text>
<text x="508.6" y="689.8">8</text>
<text x="633.3" y="690">12</text>
<text x="775.5" y="719.3">17</text>
<text x="807.8" y="736.7">12</text>
<text x="726.7" y="782.3">14</text>
<text x="748.8" y="782.3">15</text>
<text x="735.3" y="804">13</text>
<text x="531.7" y="802.3">14</text>
<text x="507.5" y="815.7">17</text>
<text x="471.5" y="833.3">18</text>
<text x="671.2" y="849">16</text>
</g>
</svg>
</body></html>
